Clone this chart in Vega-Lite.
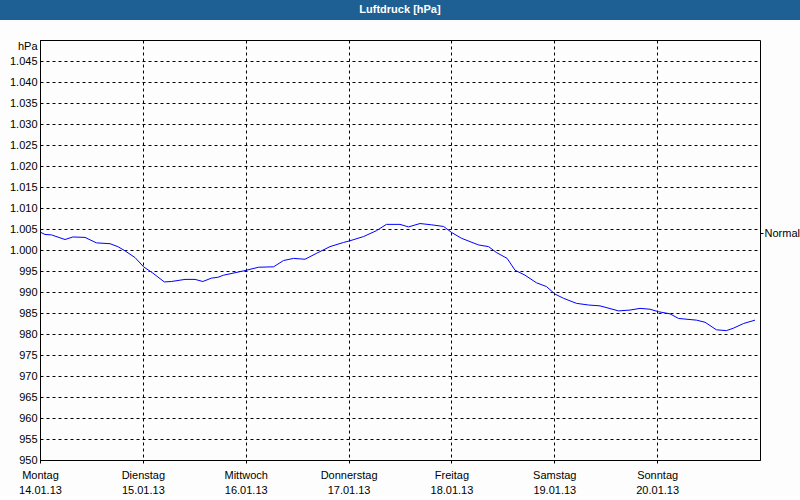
{
  "$schema": "https://vega.github.io/schema/vega-lite/v6.json",
  "padding": 0,
  "background": "#fdfdfd",
  "spacing": 20,
  "bounds": "flush",
  "center": true,
  "config": {
    "font": "Liberation Sans",
    "axis": {"labelFont": "Liberation Sans", "labelFontSize": 11, "labelColor": "black", "domainColor": "black", "tickColor": "black"}
  },
  "vconcat": [
    {
      "width": 800,
      "height": 20,
      "view": {"fill": "#1e6094", "stroke": null},
      "data": {"values": [{"chart": "Luftdruck [hPa]"}]},
      "mark": {"type": "text", "color": "white", "fontWeight": "bold", "fontSize": 11, "font": "Liberation Sans"},
      "encoding": {"text": {"field": "chart"}}
    },
    {
      "width": 720,
      "height": 420,
      "view": {"stroke": "black", "strokeWidth": 1},
      "resolve": {"axis": {"y": "independent"}},
      "layer": [
        {
          "data": {
            "values": [
              {"Zeit": "2013-01-14T00:10", "hPa": 1004.2},
              {"Zeit": "2013-01-14T01:10", "hPa": 1003.7},
              {"Zeit": "2013-01-14T02:40", "hPa": 1003.6},
              {"Zeit": "2013-01-14T05:50", "hPa": 1002.5},
              {"Zeit": "2013-01-14T07:40", "hPa": 1003.1},
              {"Zeit": "2013-01-14T10:30", "hPa": 1003.0},
              {"Zeit": "2013-01-14T13:10", "hPa": 1001.7},
              {"Zeit": "2013-01-14T16:20", "hPa": 1001.5},
              {"Zeit": "2013-01-14T18:10", "hPa": 1000.8},
              {"Zeit": "2013-01-14T19:50", "hPa": 999.8},
              {"Zeit": "2013-01-14T22:10", "hPa": 998.2},
              {"Zeit": "2013-01-15T00:10", "hPa": 996.0},
              {"Zeit": "2013-01-15T02:20", "hPa": 994.5},
              {"Zeit": "2013-01-15T05:00", "hPa": 992.4},
              {"Zeit": "2013-01-15T06:40", "hPa": 992.5},
              {"Zeit": "2013-01-15T09:50", "hPa": 993.0},
              {"Zeit": "2013-01-15T12:10", "hPa": 993.0},
              {"Zeit": "2013-01-15T14:00", "hPa": 992.5},
              {"Zeit": "2013-01-15T16:00", "hPa": 993.3},
              {"Zeit": "2013-01-15T17:30", "hPa": 993.5},
              {"Zeit": "2013-01-15T18:50", "hPa": 994.0},
              {"Zeit": "2013-01-15T23:50", "hPa": 995.1},
              {"Zeit": "2013-01-16T03:00", "hPa": 995.9},
              {"Zeit": "2013-01-16T06:30", "hPa": 996.0},
              {"Zeit": "2013-01-16T08:50", "hPa": 997.5},
              {"Zeit": "2013-01-16T11:10", "hPa": 998.0},
              {"Zeit": "2013-01-16T13:50", "hPa": 997.8},
              {"Zeit": "2013-01-16T16:30", "hPa": 999.2},
              {"Zeit": "2013-01-16T19:40", "hPa": 1000.8},
              {"Zeit": "2013-01-16T22:50", "hPa": 1001.8},
              {"Zeit": "2013-01-17T00:20", "hPa": 1002.2},
              {"Zeit": "2013-01-17T03:30", "hPa": 1003.2},
              {"Zeit": "2013-01-17T06:30", "hPa": 1004.6},
              {"Zeit": "2013-01-17T08:50", "hPa": 1006.1},
              {"Zeit": "2013-01-17T12:00", "hPa": 1006.1},
              {"Zeit": "2013-01-17T14:00", "hPa": 1005.5},
              {"Zeit": "2013-01-17T16:40", "hPa": 1006.3},
              {"Zeit": "2013-01-17T19:20", "hPa": 1006.0},
              {"Zeit": "2013-01-17T22:10", "hPa": 1005.6},
              {"Zeit": "2013-01-18T00:00", "hPa": 1004.2},
              {"Zeit": "2013-01-18T02:20", "hPa": 1002.8},
              {"Zeit": "2013-01-18T04:20", "hPa": 1002.0},
              {"Zeit": "2013-01-18T06:20", "hPa": 1001.2},
              {"Zeit": "2013-01-18T08:40", "hPa": 1000.8},
              {"Zeit": "2013-01-18T10:30", "hPa": 999.4},
              {"Zeit": "2013-01-18T13:00", "hPa": 998.0},
              {"Zeit": "2013-01-18T14:50", "hPa": 995.2},
              {"Zeit": "2013-01-18T17:10", "hPa": 994.0},
              {"Zeit": "2013-01-18T19:50", "hPa": 992.2},
              {"Zeit": "2013-01-18T22:10", "hPa": 991.3},
              {"Zeit": "2013-01-19T00:10", "hPa": 989.5},
              {"Zeit": "2013-01-19T02:10", "hPa": 988.5},
              {"Zeit": "2013-01-19T05:10", "hPa": 987.3},
              {"Zeit": "2013-01-19T08:00", "hPa": 986.9},
              {"Zeit": "2013-01-19T10:40", "hPa": 986.7},
              {"Zeit": "2013-01-19T15:00", "hPa": 985.5},
              {"Zeit": "2013-01-19T17:40", "hPa": 985.7},
              {"Zeit": "2013-01-19T20:00", "hPa": 986.1},
              {"Zeit": "2013-01-19T22:20", "hPa": 985.9},
              {"Zeit": "2013-01-20T00:20", "hPa": 985.3},
              {"Zeit": "2013-01-20T03:00", "hPa": 984.8},
              {"Zeit": "2013-01-20T05:00", "hPa": 983.7},
              {"Zeit": "2013-01-20T09:10", "hPa": 983.3},
              {"Zeit": "2013-01-20T11:10", "hPa": 982.8},
              {"Zeit": "2013-01-20T13:50", "hPa": 981.0},
              {"Zeit": "2013-01-20T16:10", "hPa": 980.8},
              {"Zeit": "2013-01-20T17:50", "hPa": 981.4},
              {"Zeit": "2013-01-20T20:10", "hPa": 982.5},
              {"Zeit": "2013-01-20T22:50", "hPa": 983.3}
            ]
          },
          "mark": {"type": "line", "color": "#0000ff", "strokeWidth": 1},
          "encoding": {
            "x": {
              "field": "Zeit",
              "type": "temporal",
              "scale": {
                "domain": [{"year": 2013, "month": 1, "date": 14}, {"year": 2013, "month": 1, "date": 21}],
                "nice": false
              },
              "axis": {
                "title": null,
                "values": [
                  {"year": 2013, "month": 1, "date": 14},
                  {"year": 2013, "month": 1, "date": 15},
                  {"year": 2013, "month": 1, "date": 16},
                  {"year": 2013, "month": 1, "date": 17},
                  {"year": 2013, "month": 1, "date": 18},
                  {"year": 2013, "month": 1, "date": 19},
                  {"year": 2013, "month": 1, "date": 20}
                ],
                "labelExpr": "[['Sonntag','Montag','Dienstag','Mittwoch','Donnerstag','Freitag','Samstag'][day(datum.value)], timeFormat(datum.value, '%d.%m.%y')]",
                "grid": true,
                "gridColor": "black",
                "gridDash": [3, 3],
                "gridOpacity": 1,
                "tickSize": 3,
                "labelPadding": 6,
                "labelLineHeight": 15,
                "labelFlush": false,
                "labelOverlap": false
              }
            },
            "y": {
              "field": "hPa",
              "type": "quantitative",
              "scale": {"domain": [950, 1050], "nice": false, "zero": false},
              "axis": {
                "title": null,
                "values": [950, 955, 960, 965, 970, 975, 980, 985, 990, 995, 1000, 1005, 1010, 1015, 1020, 1025, 1030, 1035, 1040, 1045, 1050],
                "labelExpr": "datum.value == 1050 ? 'hPa' : replace(format(datum.value, ','), ',', '.')",
                "labelBaseline": {"condition": {"test": "datum.value == 1050", "value": "top"}, "value": "middle"},
                "grid": true,
                "gridColor": "black",
                "gridDash": [3, 3],
                "gridOpacity": 1,
                "tickSize": 0,
                "labelPadding": 3,
                "labelOverlap": false,
                "labelFlush": false
              }
            }
          }
        },
        {
          "data": {"values": [{"Normal": 1004.0}]},
          "mark": {"type": "point", "opacity": 0},
          "encoding": {
            "y": {
              "field": "Normal",
              "type": "quantitative",
              "axis": {
                "orient": "right",
                "title": null,
                "values": [1004.0],
                "labelExpr": "'Normal'",
                "grid": false,
                "domain": false,
                "tickSize": 3,
                "labelPadding": 1
              }
            }
          }
        }
      ]
    }
  ]
}
